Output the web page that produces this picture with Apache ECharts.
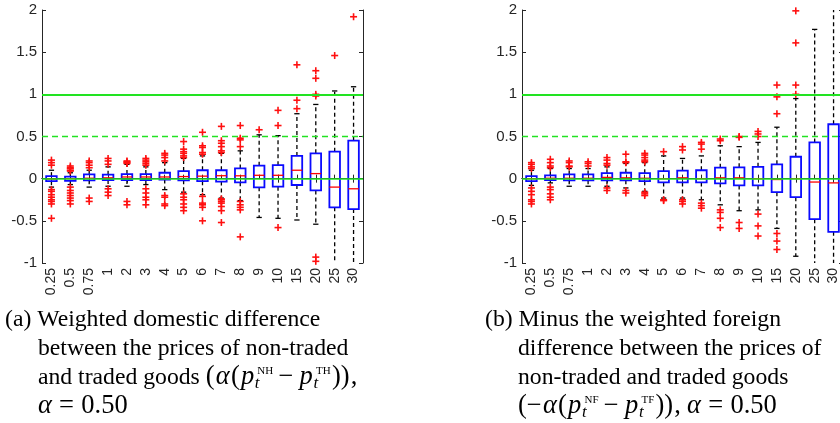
<!DOCTYPE html>
<html><head><meta charset="utf-8">
<script src="https://cdn.jsdelivr.net/npm/echarts/dist/echarts.min.js"></script>
<style>html,body{margin:0;padding:0;background:#fff}#c{width:840px;height:423px}</style>
</head><body><div id="c"></div>
<script>
// ---------- data ----------
const categories = ['0.25','0.5','0.75','1','2','3','4','5','6','7','8','9','10','15','20','25','30'];
const yTicks = [-1, -0.5, 0, 0.5, 1, 1.5, 2];

// panel (a)
const a_low  = [-0.10,-0.07,-0.10,-0.09,-0.09,-0.07,-0.13,-0.16,-0.19,-0.23,-0.26,-0.46,-0.47,-0.49,-0.54,-1.15,-1.15];
const a_q1   = [-0.03,-0.025,-0.02,-0.016,-0.016,-0.016,-0.01,-0.02,-0.03,-0.035,-0.043,-0.103,-0.095,-0.075,-0.14,-0.34,-0.36];
const a_med  = [-0.005,0.0,0.005,0.01,0.02,0.02,0.02,0.025,0.03,0.035,0.034,0.04,0.04,0.10,0.06,-0.10,-0.12];
const a_q3   = [0.03,0.025,0.05,0.047,0.055,0.055,0.07,0.09,0.10,0.10,0.122,0.154,0.16,0.27,0.30,0.32,0.45];
const a_high = [0.10,0.07,0.10,0.14,0.17,0.14,0.19,0.24,0.27,0.30,0.33,0.52,0.51,0.77,0.88,1.04,1.09];
const a_out = [
  [0.22,0.19,0.16,-0.13,-0.15,-0.19,-0.22,-0.25,-0.27,-0.30,-0.47],
  [0.15,0.13,0.12,0.10,0.09,-0.10,-0.14,-0.17,-0.20,-0.23,-0.26,-0.30],
  [0.21,0.19,0.16,0.13,-0.23,-0.27],
  [0.24,0.21,0.17,-0.12,-0.16,-0.20],
  [0.21,0.20,0.19,0.18,-0.27,-0.31],
  [0.24,0.22,0.20,0.18,0.16,-0.12,-0.17,-0.22,-0.25,-0.31],
  [0.30,0.28,0.25,0.21,-0.20,-0.22,-0.30,-0.32],
  [0.44,0.35,0.32,0.30,0.27,0.25,-0.18,-0.22,-0.25,-0.30,-0.34,-0.38],
  [0.55,0.39,0.37,0.31,0.29,-0.21,-0.29,-0.31,-0.34,-0.50],
  [0.62,0.45,0.42,0.38,0.33,0.31,-0.24,-0.25,-0.27,-0.29,-0.33,-0.38,-0.52],
  [0.63,0.48,0.46,0.38,-0.27,-0.31,-0.34,-0.37,-0.69],
  [0.58],
  [0.81,0.63,-0.58],
  [1.35,0.93,0.83],
  [1.28,1.19,1.00,0.98,-0.93,-0.98],
  [1.46],
  [1.92]
];

// panel (b)
const b_low  = [-0.08,-0.05,-0.09,-0.09,-0.09,-0.11,-0.15,-0.23,-0.23,-0.25,-0.31,-0.38,-0.37,-0.59,-0.92,-1.15,-1.15];
const b_q1   = [-0.03,-0.016,-0.02,-0.02,-0.02,-0.02,-0.03,-0.045,-0.045,-0.045,-0.055,-0.08,-0.08,-0.16,-0.22,-0.48,-0.63];
const b_med  = [0.0,0.005,0.005,0.005,0.015,0.01,0.005,0.0,0.01,0.0,0.01,0.01,0.0,-0.01,0.0,-0.04,-0.05];
const b_q3   = [0.03,0.04,0.05,0.05,0.065,0.07,0.065,0.09,0.095,0.10,0.13,0.135,0.14,0.17,0.26,0.43,0.645];
const b_high = [0.10,0.12,0.12,0.12,0.14,0.18,0.19,0.27,0.24,0.27,0.39,0.38,0.43,0.61,0.95,1.77,2.3];
const b_out = [
  [0.19,0.17,0.14,0.12,-0.11,-0.15,-0.19,-0.25,-0.27,-0.30],
  [0.23,0.19,0.15,0.13,-0.10,-0.13,-0.18,-0.22,-0.25],
  [0.21,0.19,0.15,0.14],
  [0.20,0.18,0.15],
  [0.25,0.22,0.18,0.16,-0.11,-0.14],
  [0.29,0.20,0.19,-0.14,-0.17],
  [0.30,0.28,0.25,0.22,0.20,-0.16,-0.18,-0.20],
  [0.32,-0.25,-0.26],
  [0.38,0.34,-0.25,-0.27,-0.30],
  [0.43,0.41,0.35,-0.29,-0.32,-0.35],
  [0.47,0.45,-0.37,-0.40,-0.47,-0.58],
  [0.50,0.49,-0.52,-0.59],
  [0.56,0.53,0.50,-0.42,-0.56,-0.68],
  [1.11,0.97,0.77,-0.65,-0.74,-0.84],
  [1.99,1.61,1.11,1.00],
  [],
  []
];

// ---------- chart ----------
const AX = '#262626';
const SANS = "'Liberation Sans', Arial, Helvetica, sans-serif";
const SERIF = "'Liberation Serif', 'Times New Roman', serif";

function boxData(lo, q1, md, q3, hi) {
  return categories.map((c, i) => [i, lo[i], q1[i], md[i], q3[i], hi[i]]);
}
function outData(out) {
  const d = [];
  out.forEach((arr, i) => arr.forEach(v => d.push([i, v])));
  return d;
}
function renderBox(params, api) {
  const i = api.value(0);
  const band = api.size([1, 0])[0];
  const hw = band * 0.28, cw = band * 0.14;
  const pLo = api.coord([i, api.value(1)]);
  const pQ1 = api.coord([i, api.value(2)]);
  const pMd = api.coord([i, api.value(3)]);
  const pQ3 = api.coord([i, api.value(4)]);
  const pHi = api.coord([i, api.value(5)]);
  const x = pMd[0];
  const dash = {stroke: '#000', lineWidth: 1.3, lineDash: [4, 3], fill: null};
  const solid = {stroke: '#000', lineWidth: 1.3, fill: null};
  return {type: 'group', children: [
    {type: 'line', shape: {x1: x, y1: pQ3[1], x2: x, y2: pHi[1]}, style: dash},
    {type: 'line', shape: {x1: x, y1: pQ1[1], x2: x, y2: pLo[1]}, style: dash},
    {type: 'line', shape: {x1: x - cw, y1: pHi[1], x2: x + cw, y2: pHi[1]}, style: solid},
    {type: 'line', shape: {x1: x - cw, y1: pLo[1], x2: x + cw, y2: pLo[1]}, style: solid},
    {type: 'rect', shape: {x: x - hw, y: pQ3[1], width: 2 * hw, height: pQ1[1] - pQ3[1]},
      style: {stroke: '#0a0aff', lineWidth: 1.8, fill: null}},
    {type: 'line', shape: {x1: x - hw, y1: pMd[1], x2: x + hw, y2: pMd[1]},
      style: {stroke: '#ff0000', lineWidth: 1.3}}
  ]};
}
function renderOut(params, api) {
  const p = api.coord([api.value(0), api.value(1)]);
  const s = 3.5;
  const st = {stroke: '#ff1010', lineWidth: 1.6};
  return {type: 'group', children: [
    {type: 'line', shape: {x1: p[0] - s, y1: p[1], x2: p[0] + s, y2: p[1]}, style: st},
    {type: 'line', shape: {x1: p[0], y1: p[1] - s, x2: p[0], y2: p[1] + s}, style: st}
  ]};
}

const grids = [
  {left: 42, top: 10, width: 321, height: 253, outerBoundsMode: 'none'},
  {left: 522, top: 10, width: 321, height: 253, outerBoundsMode: 'none'}
];
const xAxes = [], yAxes = [];
[0, 1].forEach(g => {
  const tick = {show: true, inside: true, alignWithLabel: true, length: 4, lineStyle: {color: AX, width: 1}};
  xAxes.push({type: 'category', gridIndex: g, data: categories, position: 'bottom', boundaryGap: true,
    axisLine: {show: true, lineStyle: {color: AX, width: 1}}, axisTick: tick,
    axisLabel: {show: true, rotate: 90, margin: 5, interval: 0, color: AX, fontFamily: SANS, fontSize: 14},
    splitLine: {show: false}});
  xAxes.push({type: 'category', gridIndex: g, data: categories, position: 'top', boundaryGap: true,
    axisLine: {show: true, lineStyle: {color: AX, width: 1}}, axisTick: tick,
    axisLabel: {show: false}, splitLine: {show: false}});
  const yt = {show: true, inside: true, length: 4, lineStyle: {color: AX, width: 1}};
  yAxes.push({type: 'value', gridIndex: g, position: 'left', min: yTicks[0], max: yTicks[yTicks.length - 1], interval: 0.5,
    axisLine: {show: true, lineStyle: {color: AX, width: 1}}, axisTick: yt,
    axisLabel: {show: true, margin: 5, color: AX, fontFamily: SANS, fontSize: 15, showMinLabel: true, showMaxLabel: true},
    splitLine: {show: false}});
  yAxes.push({type: 'value', gridIndex: g, position: 'right', min: yTicks[0], max: yTicks[yTicks.length - 1], interval: 0.5,
    axisLine: {show: true, lineStyle: {color: AX, width: 1}}, axisTick: yt,
    axisLabel: {show: false}, splitLine: {show: false}});
});

const GREEN = '#22e322';
function refLines(g) {
  return {type: 'line', xAxisIndex: 2 * g, yAxisIndex: 2 * g, data: [], silent: true, z: 3,
    markLine: {silent: true, symbol: ['none', 'none'], label: {show: false}, animation: false,
      lineStyle: {color: GREEN, width: 1.6, type: 'solid'},
      data: [
        {yAxis: 1, lineStyle: {color: GREEN, width: 1.8, type: 'solid'}},
        {yAxis: 0.5, lineStyle: {color: GREEN, width: 1.4, type: [6, 4]}},
        {yAxis: 0, lineStyle: {color: GREEN, width: 1.6, type: 'solid'}}
      ]}};
}

const series = [];
[[a_low, a_q1, a_med, a_q3, a_high, a_out], [b_low, b_q1, b_med, b_q3, b_high, b_out]].forEach((d, g) => {
  series.push({type: 'custom', xAxisIndex: 2 * g, yAxisIndex: 2 * g, clip: true, silent: true,
    data: boxData(d[0], d[1], d[2], d[3], d[4]), encode: {x: 0, y: [1, 2, 3, 4, 5]}, renderItem: renderBox});
  series.push(refLines(g));
  series.push({type: 'custom', xAxisIndex: 2 * g, yAxisIndex: 2 * g, silent: true, z: 4,
    data: outData(d[5]), encode: {x: 0, y: 1}, renderItem: renderOut});
});

// ---------- captions ----------
const FS = 23.7;      // caption text
const MFS = 26.5;     // math glyphs
const MGAP = 1.2;     // extra math spacing
const mctx = document.createElement('canvas').getContext('2d');
function fontStr(size, italic) { return (italic ? 'italic ' : '') + size + 'px ' + SERIF; }
function mw(text, size, italic) { mctx.font = fontStr(size, italic); return mctx.measureText(text).width; }
const graphics = [];
function put(text, x, baseline, size, italic) {
  graphics.push({type: 'text', x: x, y: baseline - 0.305 * size, silent: true,
    style: {text: text, font: fontStr(size, italic), fill: '#000', textAlign: 'left', textVerticalAlign: 'middle',
      align: 'left', verticalAlign: 'middle'}});
}
function T(t) { return {k: 't', t: t}; }     // text
function M(t) { return {k: 'm', t: t}; }     // math upright
function I(t) { return {k: 'i', t: t}; }     // math italic
function W(w) { return {k: 'w', w: w}; }     // math space (px)
function S(sub, sup) { return {k: 's', sub: sub, sup: sup}; }
function line(x, B, segs) {
  let cx = x;
  segs.forEach(s => {
    if (s.k === 's') {
      const subSize = MFS * 0.64, supSize = 11;
      put(s.sub, cx - 0.5, B + 4, subSize, true);
      put(s.sup, cx + 2, B - 10.5, supSize, false);
      cx += Math.max(mw(s.sub, subSize, true), mw(s.sup, supSize, false) + 2) + MGAP;
    } else if (s.k === 'w') {
      cx += s.w;
    } else if (s.k === 't') {
      put(s.t, cx, B, FS, false);
      cx += mw(s.t, FS, false);
    } else {
      const it = s.k === 'i';
      put(s.t, cx, B, MFS, it);
      cx += mw(s.t, MFS, it) + MGAP;
    }
  });
}
const capA = [
  [5, 327, [T('(a) Weighted domestic difference')]],
  [38, 356, [T('between the prices of non-traded')]],
  [38, 385, [T('and traded goods '), M('('), I('α'), M('('), I('p'), S('t', 'NH'), W(4), M('−'), W(5), I('p'), S('t', 'TH'), M('))'), M(',')]],
  [38, 414, [I('α'), W(6), M('='), W(6), M('0.50')]]
];
const capB = [
  [485, 327, [T('(b) Minus the weighted foreign')]],
  [518, 356, [T('difference between the prices of')]],
  [518, 385, [T('non-traded and traded goods')]],
  [518, 414, [M('(−'), I('α'), M('('), I('p'), S('t', 'NF'), W(4), M('−'), W(5), I('p'), S('t', 'TF'), M('))'), M(','), W(5), I('α'), W(6), M('='), W(6), M('0.50')]]
];
capA.concat(capB).forEach(l => line(l[0], l[1], l[2]));

const chart = echarts.init(document.getElementById('c'), null, {renderer: 'canvas'});
chart.setOption({
  animation: false,
  backgroundColor: '#fff',
  grid: grids,
  xAxis: xAxes,
  yAxis: yAxes,
  series: series,
  graphic: {elements: graphics}
});
</script>
</body></html>
